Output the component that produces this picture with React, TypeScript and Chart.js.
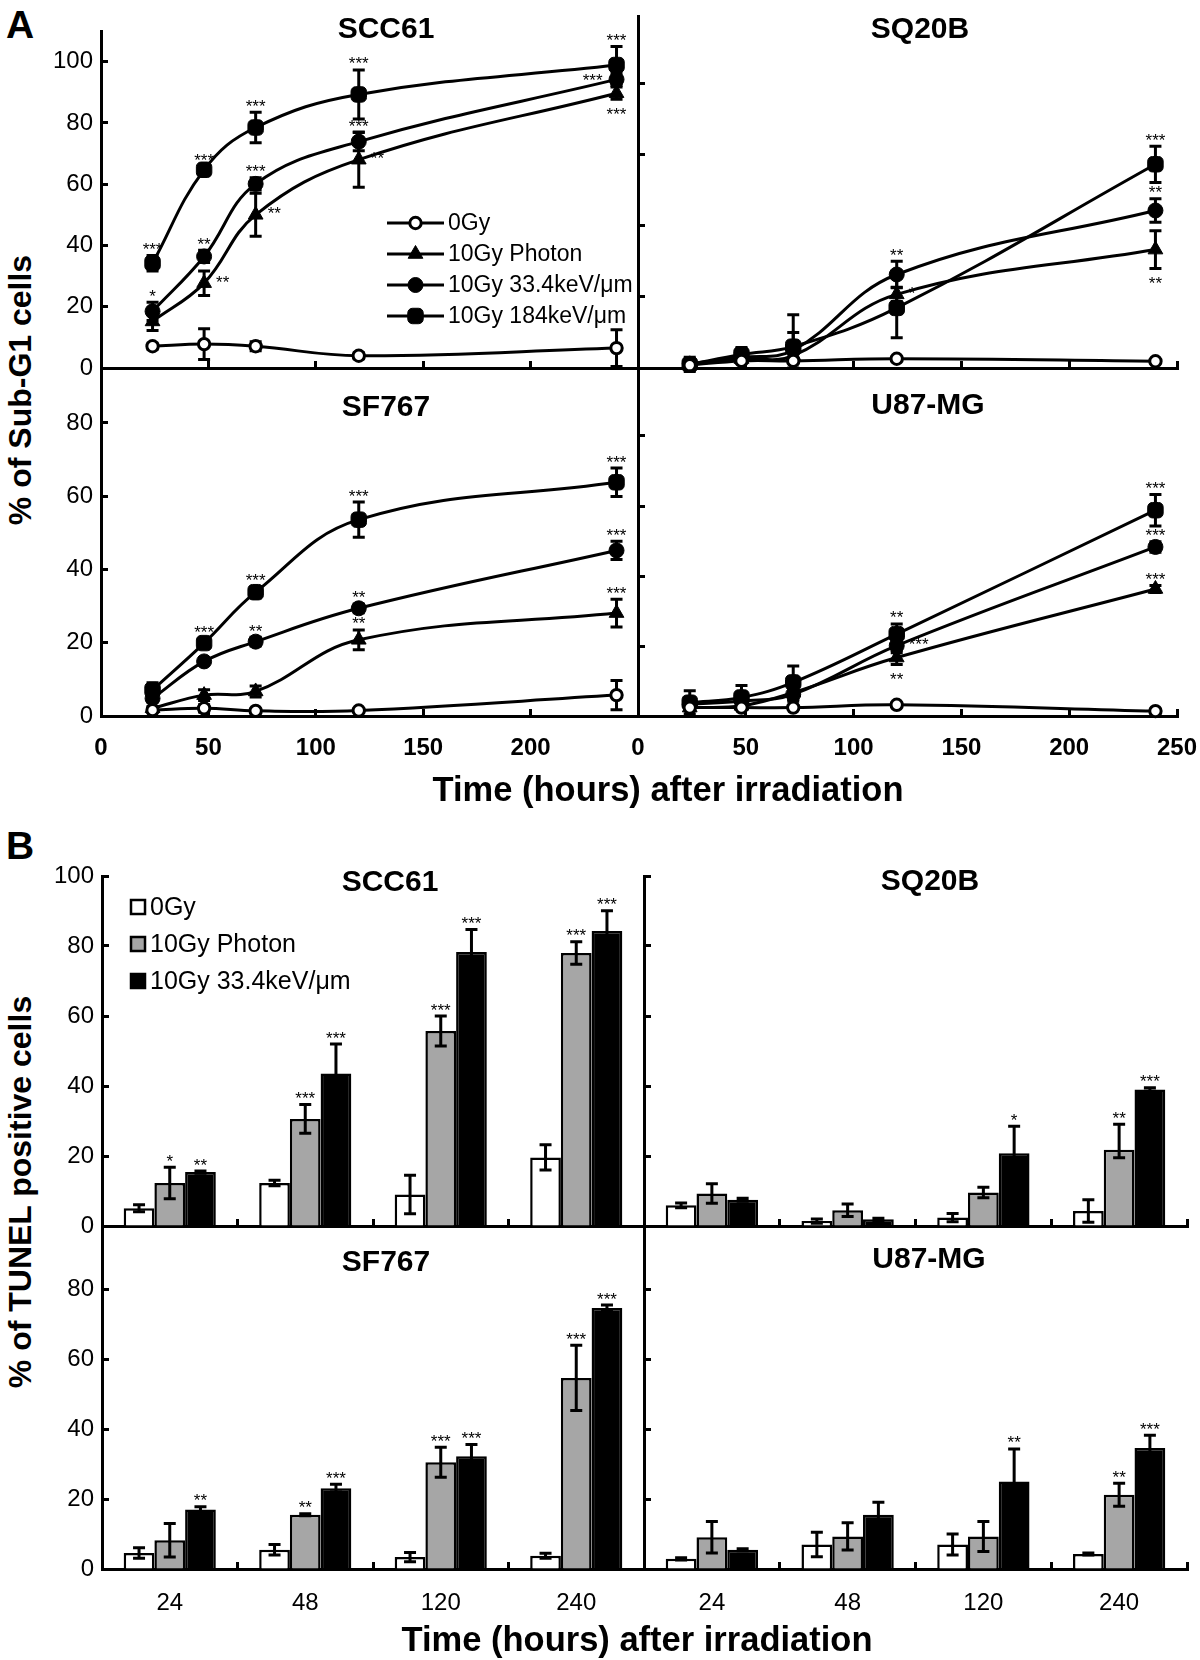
import React, { useEffect, useRef } from "react";
import { Chart, registerables } from "chart.js";

Chart.register(...registerables);

const FONT = "'Liberation Sans', Arial, Helvetica, sans-serif";

/* ================= Panel A : % of Sub-G1 cells ================= */
const hoursA = [24, 48, 72, 120, 240];
const xTicksA = [0, 50, 100, 150, 200, 250];
const yTicksA_TL = [0, 20, 40, 60, 80, 100];
const yTicksA_BL = [0, 20, 40, 60, 80];
const yTicksA_R = [0, 20, 40, 60, 80];
const seriesLabelsA = ["0Gy", "10Gy Photon", "10Gy 33.4keV/μm", "10Gy 184keV/μm"];

// SCC61
const a_scc61_0gy = [7.1, 7.8, 7.1, 4.0, 6.5];
const a_scc61_0gyErr = [1, 5, 1.5, 1, 6];
const a_scc61_photon = [15.2, 27.7, 50.0, 68.0, 89.7];
const a_scc61_photonErr = [3, 4, 7, 9, 2];
const a_scc61_photonSig = ["", "**", "**", "**", "***"];
const a_scc61_photonSigPos = ["", "r", "r", "r", "b"];
const a_scc61_let33 = [18.5, 36.4, 60.1, 73.9, 94.2];
const a_scc61_let33Err = [3, 2, 2, 3, 2];
const a_scc61_let33Sig = ["*", "**", "***", "***", "***"];
const a_scc61_let33SigPos = ["a", "a", "a", "a", "l"];
const a_scc61_let184 = [34.2, 64.7, 78.5, 89.3, 98.9];
const a_scc61_let184Err = [2.5, 1, 5, 8, 6];
const a_scc61_let184Sig = ["***", "***", "***", "***", "***"];

// SQ20B
const a_sq20b_0gy = [0.8, 2.0, 2.0, 2.6, 1.9];
const a_sq20b_0gyErr = [0.5, 0.5, 0.5, 0.5, 0.5];
const a_sq20b_photon = [1.0, 2.5, 3.5, 20.7, 33.3];
const a_sq20b_photonErr = [0.5, 1, 1.5, 2, 5.3];
const a_sq20b_photonSig = ["", "", "", "*", "**"];
const a_sq20b_photonSigPos = ["", "", "", "r", "b"];
const a_sq20b_let33 = [1.2, 3.0, 5.0, 26.3, 44.3];
const a_sq20b_let33Err = [1, 1, 5, 3.7, 3.3];
const a_sq20b_let33Sig = ["", "", "", "**", "**"];
const a_sq20b_let184 = [1.0, 3.8, 6.0, 16.9, 57.3];
const a_sq20b_let184Err: any[] = [2, 2, [3, 9], 8.4, 5.1];
const a_sq20b_let184Sig = ["", "", "", "", "***"];

// SF767
const a_sf767_0gy = [1.6, 2.1, 1.4, 1.5, 5.7];
const a_sf767_0gyErr = [0.5, 1, 0.5, 0.5, 4];
const a_sf767_photon = [2.1, 5.7, 6.7, 20.8, 28.1];
const a_sf767_photonErr = [0.5, 1.5, 1.5, 2.7, 3.8];
const a_sf767_photonSig = ["", "", "", "**", "***"];
const a_sf767_let33 = [4.8, 14.9, 20.3, 29.4, 45.2];
const a_sf767_let33Err = [1, 1, 1.2, 1.2, 2.5];
const a_sf767_let33Sig = ["", "", "**", "**", "***"];
const a_sf767_let184 = [7.1, 19.9, 33.8, 53.6, 63.8];
const a_sf767_let184Err = [2, 1.2, 1.5, 4.8, 3.9];
const a_sf767_let184Sig = ["", "***", "***", "***", "***"];

// U87-MG
const a_u87_0gy = [2.4, 2.4, 2.4, 3.2, 1.4];
const a_u87_0gyErr = [0.5, 0.5, 0.5, 0.5, 0.5];
const a_u87_photon = [2.4, 2.9, 6.7, 16.7, 36.3];
const a_u87_photonErr = [1, 1, 2, 2, 1];
const a_u87_photonSig = ["", "", "", "**", "***"];
const a_u87_photonSigPos = ["", "", "", "b", "a"];
const a_u87_let33 = [3.3, 4.3, 6.2, 20.1, 48.3];
const a_u87_let33Err = [1, 1, 2, 2, 1.5];
const a_u87_let33Sig = ["", "", "", "***", "***"];
const a_u87_let33SigPos = ["", "", "", "r", "a"];
const a_u87_let184 = [3.8, 5.3, 9.6, 23.4, 58.8];
const a_u87_let184Err = [3.4, 3.4, 4.7, 2.9, 4.5];
const a_u87_let184Sig = ["", "", "", "**", "***"];

/* ================= Panel B : % of TUNEL positive cells ================= */
const hoursB = ["24", "48", "120", "240"];
const yTicksB_T = [0, 20, 40, 60, 80, 100];
const yTicksB_B = [0, 20, 40, 60, 80];
const seriesLabelsB = ["0Gy", "10Gy Photon", "10Gy 33.4keV/μm"];

// SCC61
const b_scc61_0gy = [5.1, 12.3, 9.0, 19.6];
const b_scc61_0gyErr = [1, 0.8, 5.5, 3.6];
const b_scc61_photon = [12.3, 30.6, 55.7, 78.0];
const b_scc61_photonErr = [4.5, 4.1, 4.3, 3.2];
const b_scc61_photonSig = ["*", "***", "***", "***"];
const b_scc61_let33 = [15.4, 43.6, 78.3, 84.3];
const b_scc61_let33Err = [0.3, 8.4, 6.4, 5.8];
const b_scc61_let33Sig = ["**", "***", "***", "***"];

// SQ20B
const b_sq20b_0gy = [5.9, 1.4, 2.4, 4.3];
const b_sq20b_0gyErr = [0.7, 0.6, 1.2, 3.2];
const b_sq20b_photon = [9.3, 4.5, 9.6, 21.8];
const b_sq20b_photonErr: any[] = [2.8, 1.8, 1.5, [2.3, 7.3]];
const b_sq20b_photonSig = ["", "", "", "**"];
const b_sq20b_let33 = [7.5, 1.9, 20.8, 39.0];
const b_sq20b_let33Err = [0.4, 0.3, 7.7, 0.5];
const b_sq20b_let33Sig = ["", "", "*", "***"];

// SF767
const b_sf767_0gy = [4.6, 5.5, 3.4, 3.8];
const b_sf767_0gyErr = [1.5, 1.5, 1.3, 0.7];
const b_sf767_photon = [8.2, 15.5, 30.5, 54.6];
const b_sf767_photonErr = [4.8, 0.3, 4.3, 9.3];
const b_sf767_photonSig = ["", "**", "***", "***"];
const b_sf767_let33 = [17.0, 23.1, 32.2, 74.6];
const b_sf767_let33Err = [0.8, 1.1, 3.4, 0.8];
const b_sf767_let33Sig = ["**", "***", "***", "***"];

// U87-MG
const b_u87_0gy = [2.9, 7.0, 7.0, 4.3];
const b_u87_0gyErr = [0.3, 3.5, 3.0, 0.3];
const b_u87_photon = [9.1, 9.3, 9.3, 21.2];
const b_u87_photonErr = [4.5, 3.9, 4.3, 3.3];
const b_u87_photonSig = ["", "", "", "**"];
const b_u87_let33 = [5.5, 15.5, 25.0, 34.6];
const b_u87_let33Err = [0.3, 3.6, 9.3, 3.6];
const b_u87_let33Sig = ["", "", "**", "***"];

const panelTitles = ["SCC61", "SQ20B", "SF767", "U87-MG"];
const xTitle = "Time (hours) after irradiation";
const yTitleA = "% of Sub-G1 cells";
const yTitleB = "% of TUNEL positive cells";

/* ================= styles ================= */
const lineStyles: any[] = [
  { pointStyle: "circle", pointRadius: 5.7, pointBackgroundColor: "#ffffff", pointBorderWidth: 3 },
  { pointStyle: "triangle", pointRadius: 8.5, pointBackgroundColor: "#000000", pointBorderWidth: 1 },
  { pointStyle: "circle", pointRadius: 7.5, pointBackgroundColor: "#000000", pointBorderWidth: 1 },
  { pointStyle: "rectRounded", pointRadius: 9, pointBackgroundColor: "#000000", pointBorderWidth: 1 },
];
const barColors = ["#ffffff", "#a6a6a6", "#000000"];

function valueOf(d: any) {
  return typeof d === "number" ? d : d.y;
}
function errLoHi(e: any) {
  if (e == null) return [0, 0];
  return Array.isArray(e) ? [e[0], e[1]] : [e, e];
}

function drawErrors(chart: any, cap: number) {
  const ctx = chart.ctx;
  const ys = chart.scales.y;
  ctx.save();
  ctx.strokeStyle = "#000";
  ctx.lineWidth = 3;
  chart.data.datasets.forEach((ds: any, di: number) => {
    if (!ds.errors) return;
    const meta = chart.getDatasetMeta(di);
    meta.data.forEach((el: any, i: number) => {
      const e = ds.errors[i];
      if (e == null) return;
      const [lo, hi] = errLoHi(e);
      const v = valueOf(ds.data[i]);
      const x = el.x;
      const y1 = ys.getPixelForValue(v + hi);
      const y2 = ys.getPixelForValue(v - lo);
      ctx.beginPath();
      ctx.moveTo(x, y1);
      ctx.lineTo(x, y2);
      ctx.moveTo(x - cap / 2, y1);
      ctx.lineTo(x + cap / 2, y1);
      ctx.moveTo(x - cap / 2, y2);
      ctx.lineTo(x + cap / 2, y2);
      ctx.stroke();
    });
  });
  ctx.restore();
}

function drawSig(chart: any) {
  const ctx = chart.ctx;
  const ys = chart.scales.y;
  const size = 17;
  const lift = 0.56 * size;
  ctx.save();
  ctx.fillStyle = "#000";
  ctx.font = `${size}px ${FONT}`;
  ctx.textBaseline = "alphabetic";
  chart.data.datasets.forEach((ds: any, di: number) => {
    if (!ds.sig) return;
    const meta = chart.getDatasetMeta(di);
    meta.data.forEach((el: any, i: number) => {
      const s = ds.sig[i];
      if (!s) return;
      const pos = (ds.sigPos && ds.sigPos[i]) || "a";
      const [lo, hi] = errLoHi(ds.errors ? ds.errors[i] : 0);
      const v = valueOf(ds.data[i]);
      let x = el.x;
      let cy = 0;
      ctx.textAlign = "center";
      if (pos === "a") cy = ys.getPixelForValue(v + hi) - 10;
      else if (pos === "b") cy = ys.getPixelForValue(v - lo) + 11;
      else if (pos === "r") {
        ctx.textAlign = "left";
        x += 12;
        cy = el.y - 5;
      } else {
        ctx.textAlign = "right";
        x -= 14;
        cy = el.y - 3;
      }
      ctx.fillText(s, x, cy + lift);
    });
  });
  ctx.restore();
}

const annotate = {
  id: "annotate",
  beforeDatasetsDraw(chart: any) {
    if (chart.config.type === "line") drawErrors(chart, 12);
  },
  afterDatasetsDraw(chart: any) {
    if (chart.config.type === "bar") drawErrors(chart, 12);
    drawSig(chart);
  },
};

function drawMarker(ctx: any, st: any, x: number, y: number) {
  const r = st.pointRadius;
  ctx.beginPath();
  if (st.pointStyle === "circle") {
    ctx.arc(x, y, r, 0, Math.PI * 2);
  } else if (st.pointStyle === "triangle") {
    ctx.moveTo(x, y - r);
    ctx.lineTo(x + Math.sin((2 * Math.PI) / 3) * r, y - Math.cos((2 * Math.PI) / 3) * r);
    ctx.lineTo(x + Math.sin((4 * Math.PI) / 3) * r, y - Math.cos((4 * Math.PI) / 3) * r);
    ctx.closePath();
  } else {
    const c = r * 0.516;
    const h = r * 0.858;
    ctx.roundRect(x - h, y - h, 2 * h, 2 * h, c);
  }
  ctx.fillStyle = st.pointBackgroundColor;
  ctx.fill();
  ctx.lineWidth = st.pointBorderWidth;
  ctx.strokeStyle = "#000";
  ctx.stroke();
}

function legendLinePlugin(ox: number, oy: number) {
  return {
    id: "legendA",
    afterDatasetsDraw(chart: any) {
      const ctx = chart.ctx;
      ctx.save();
      seriesLabelsA.forEach((lab, i) => {
        const y = 223 + i * 31 - oy;
        const x0 = 387 - ox;
        const x1 = 444 - ox;
        ctx.strokeStyle = "#000";
        ctx.lineWidth = 3;
        ctx.beginPath();
        ctx.moveTo(x0, y);
        ctx.lineTo(x1, y);
        ctx.stroke();
        drawMarker(ctx, lineStyles[i], (x0 + x1) / 2, y);
        ctx.fillStyle = "#000";
        ctx.font = `23px ${FONT}`;
        ctx.textAlign = "left";
        ctx.textBaseline = "middle";
        ctx.fillText(lab, 448 - ox, y + 1);
      });
      ctx.restore();
    },
  };
}

function legendBarPlugin(ox: number, oy: number) {
  return {
    id: "legendB",
    afterDatasetsDraw(chart: any) {
      const ctx = chart.ctx;
      ctx.save();
      seriesLabelsB.forEach((lab, i) => {
        const y = 907 + i * 37 - oy;
        const x = 131 - ox;
        ctx.fillStyle = barColors[i];
        ctx.fillRect(x, y - 7, 14, 14);
        ctx.strokeStyle = "#000";
        ctx.lineWidth = 2.5;
        ctx.strokeRect(x, y - 7, 14, 14);
        ctx.fillStyle = "#000";
        ctx.font = `25px ${FONT}`;
        ctx.textAlign = "left";
        ctx.textBaseline = "middle";
        ctx.fillText(lab, 150 - ox, y + 1);
      });
      ctx.restore();
    },
  };
}

/* ================= scales ================= */
const axisBorder = { display: true, color: "#000", width: 3 };
const axisGrid = {
  display: true,
  drawOnChartArea: false,
  drawTicks: true,
  tickLength: -7,
  tickWidth: 3,
  tickColor: "#000",
  color: "#000",
};

function yAxis(max: number, ticks: number[], showLabels: boolean, width: number) {
  return {
    type: "linear",
    position: "left",
    min: 0,
    max,
    afterBuildTicks: (s: any) => {
      s.ticks = ticks.map((v) => ({ value: v }));
    },
    afterFit: (s: any) => {
      s.width = width;
    },
    border: axisBorder,
    grid: axisGrid,
    ticks: { display: showLabels, color: "#000", padding: 15, font: { family: FONT, size: 24 } },
  };
}

function xAxisLinear(showLabels: boolean, hideLast: boolean, height: number) {
  return {
    type: "linear",
    position: "bottom",
    min: 0,
    max: 250,
    afterBuildTicks: (s: any) => {
      s.ticks = xTicksA.map((v) => ({ value: v }));
    },
    afterFit: (s: any) => {
      s.height = height;
    },
    border: axisBorder,
    grid: axisGrid,
    ticks: {
      display: showLabels,
      color: "#000",
      padding: 25,
      maxRotation: 0,
      autoSkip: false,
      font: { family: FONT, size: 24, weight: "bold" },
      callback: (v: any) => (hideLast && v === 250 ? "" : String(v)),
    },
  };
}

function xAxisCat(showLabels: boolean, height: number) {
  return {
    type: "category",
    position: "bottom",
    offset: true,
    afterFit: (s: any) => {
      s.height = height;
    },
    border: axisBorder,
    grid: { ...axisGrid, offset: true },
    ticks: {
      display: showLabels,
      color: "#000",
      padding: 27,
      maxRotation: 0,
      autoSkip: false,
      font: { family: FONT, size: 24 },
    },
  };
}

function lineDS(i: number, values: number[], errs: any[], sig?: string[], sigPos?: string[]) {
  return {
    label: seriesLabelsA[i],
    data: hoursA.map((h, k) => ({ x: h, y: values[k] })),
    errors: errs,
    sig,
    sigPos,
    borderColor: "#000",
    borderWidth: 3,
    tension: 0.4,
    clip: false,
    pointBorderColor: "#000",
    pointHoverRadius: lineStyles[i].pointRadius,
    ...lineStyles[i],
  };
}

function barDS(i: number, values: number[], errs: any[], sig?: string[]) {
  return {
    label: seriesLabelsB[i],
    data: values,
    errors: errs,
    sig,
    backgroundColor: barColors[i],
    borderColor: "#000",
    borderWidth: 2.5,
    borderSkipped: "start",
    barPercentage: 1,
    categoryPercentage: 0.68,
  };
}

function baseOptions(pad: number[]) {
  return {
    responsive: false,
    animation: false,
    devicePixelRatio: 1,
    events: [],
    layout: { padding: { left: 0, top: pad[1], right: pad[2], bottom: 0 } },
    plugins: { legend: { display: false }, tooltip: { enabled: false }, title: { display: false } },
  };
}

type PanelDef = { rect: number[]; pad: number[]; make: (ox: number, oy: number, pad: number[]) => any };

const panels: PanelDef[] = [
  // A - SCC61
  {
    rect: [101, 31, 638, 368],
    pad: [60, 40, 20, 40],
    make: (ox, oy, pad) => ({
      type: "line",
      data: {
        datasets: [
          lineDS(0, a_scc61_0gy, a_scc61_0gyErr),
          lineDS(1, a_scc61_photon, a_scc61_photonErr, a_scc61_photonSig, a_scc61_photonSigPos),
          lineDS(2, a_scc61_let33, a_scc61_let33Err, a_scc61_let33Sig, a_scc61_let33SigPos),
          lineDS(3, a_scc61_let184, a_scc61_let184Err, a_scc61_let184Sig),
        ],
      },
      options: {
        ...baseOptions(pad),
        scales: { x: xAxisLinear(false, true, pad[3]), y: yAxis(110, yTicksA_TL, true, pad[0]) },
      },
      plugins: [annotate, legendLinePlugin(ox, oy)],
    }),
  },
  // A - SQ20B
  {
    rect: [638, 16, 1177, 368],
    pad: [10, 40, 22, 40],
    make: (ox, oy, pad) => ({
      type: "line",
      data: {
        datasets: [
          lineDS(0, a_sq20b_0gy, a_sq20b_0gyErr),
          lineDS(1, a_sq20b_photon, a_sq20b_photonErr, a_sq20b_photonSig, a_sq20b_photonSigPos),
          lineDS(2, a_sq20b_let33, a_sq20b_let33Err, a_sq20b_let33Sig),
          lineDS(3, a_sq20b_let184, a_sq20b_let184Err, a_sq20b_let184Sig),
        ],
      },
      options: {
        ...baseOptions(pad),
        scales: { x: xAxisLinear(false, false, pad[3]), y: yAxis(99, yTicksA_R, false, pad[0]) },
      },
      plugins: [annotate],
    }),
  },
  // A - SF767
  {
    rect: [101, 368, 638, 716],
    pad: [60, 40, 32, 60],
    make: (ox, oy, pad) => ({
      type: "line",
      data: {
        datasets: [
          lineDS(0, a_sf767_0gy, a_sf767_0gyErr),
          lineDS(1, a_sf767_photon, a_sf767_photonErr, a_sf767_photonSig),
          lineDS(2, a_sf767_let33, a_sf767_let33Err, a_sf767_let33Sig),
          lineDS(3, a_sf767_let184, a_sf767_let184Err, a_sf767_let184Sig),
        ],
      },
      options: {
        ...baseOptions(pad),
        scales: { x: xAxisLinear(true, true, pad[3]), y: yAxis(95, yTicksA_BL, true, pad[0]) },
      },
      plugins: [annotate],
    }),
  },
  // A - U87-MG
  {
    rect: [638, 366, 1177, 716],
    pad: [40, 40, 50, 60],
    make: (ox, oy, pad) => ({
      type: "line",
      data: {
        datasets: [
          lineDS(0, a_u87_0gy, a_u87_0gyErr),
          lineDS(1, a_u87_photon, a_u87_photonErr, a_u87_photonSig, a_u87_photonSigPos),
          lineDS(2, a_u87_let33, a_u87_let33Err, a_u87_let33Sig, a_u87_let33SigPos),
          lineDS(3, a_u87_let184, a_u87_let184Err, a_u87_let184Sig),
        ],
      },
      options: {
        ...baseOptions(pad),
        scales: { x: xAxisLinear(true, false, pad[3]), y: yAxis(100, yTicksA_R, false, pad[0]) },
      },
      plugins: [annotate],
    }),
  },
  // B - SCC61
  {
    rect: [102, 876, 644, 1226],
    pad: [60, 40, 20, 40],
    make: (ox, oy, pad) => ({
      type: "bar",
      data: {
        labels: hoursB,
        datasets: [
          barDS(0, b_scc61_0gy, b_scc61_0gyErr),
          barDS(1, b_scc61_photon, b_scc61_photonErr, b_scc61_photonSig),
          barDS(2, b_scc61_let33, b_scc61_let33Err, b_scc61_let33Sig),
        ],
      },
      options: {
        ...baseOptions(pad),
        scales: { x: xAxisCat(false, pad[3]), y: yAxis(100, yTicksB_T, true, pad[0]) },
      },
      plugins: [annotate, legendBarPlugin(ox, oy)],
    }),
  },
  // B - SQ20B
  {
    rect: [644, 876, 1187, 1226],
    pad: [10, 40, 12, 40],
    make: (ox, oy, pad) => ({
      type: "bar",
      data: {
        labels: hoursB,
        datasets: [
          barDS(0, b_sq20b_0gy, b_sq20b_0gyErr),
          barDS(1, b_sq20b_photon, b_sq20b_photonErr, b_sq20b_photonSig),
          barDS(2, b_sq20b_let33, b_sq20b_let33Err, b_sq20b_let33Sig),
        ],
      },
      options: {
        ...baseOptions(pad),
        scales: { x: xAxisCat(false, pad[3]), y: yAxis(100, yTicksB_T, false, pad[0]) },
      },
      plugins: [annotate],
    }),
  },
  // B - SF767
  {
    rect: [102, 1226, 644, 1569],
    pad: [60, 40, 20, 60],
    make: (ox, oy, pad) => ({
      type: "bar",
      data: {
        labels: hoursB,
        datasets: [
          barDS(0, b_sf767_0gy, b_sf767_0gyErr),
          barDS(1, b_sf767_photon, b_sf767_photonErr, b_sf767_photonSig),
          barDS(2, b_sf767_let33, b_sf767_let33Err, b_sf767_let33Sig),
        ],
      },
      options: {
        ...baseOptions(pad),
        scales: { x: xAxisCat(true, pad[3]), y: yAxis(98, yTicksB_B, true, pad[0]) },
      },
      plugins: [annotate],
    }),
  },
  // B - U87-MG
  {
    rect: [644, 1226, 1187, 1569],
    pad: [10, 40, 12, 60],
    make: (ox, oy, pad) => ({
      type: "bar",
      data: {
        labels: hoursB,
        datasets: [
          barDS(0, b_u87_0gy, b_u87_0gyErr),
          barDS(1, b_u87_photon, b_u87_photonErr, b_u87_photonSig),
          barDS(2, b_u87_let33, b_u87_let33Err, b_u87_let33Sig),
        ],
      },
      options: {
        ...baseOptions(pad),
        scales: { x: xAxisCat(true, pad[3]), y: yAxis(98, yTicksB_B, false, pad[0]) },
      },
      plugins: [annotate],
    }),
  },
];

function PanelCanvas({ def }: { def: PanelDef }) {
  const ref = useRef<HTMLCanvasElement | null>(null);
  const [l, t, r, b] = def.rect;
  const [pl, pt, pr, pb] = def.pad;
  const w = r - l + pl + pr;
  const h = b - t + pt + pb;
  const ox = l - pl;
  const oy = t - pt;
  useEffect(() => {
    if (!ref.current) return;
    const chart = new Chart(ref.current, def.make(ox, oy, def.pad));
    return () => chart.destroy();
  }, [def]);
  return (
    <canvas
      ref={ref}
      width={w}
      height={h}
      style={{ position: "absolute", left: ox, top: oy, width: w, height: h }}
    />
  );
}

function Label(props: { text: string; x: number; y: number; size: number; bold?: boolean; rotate?: boolean }) {
  const { text, x, y, size, bold, rotate } = props;
  return (
    <div
      style={{
        position: "absolute",
        left: x,
        top: y,
        transform: `translate(-50%, -50%)${rotate ? " rotate(-90deg)" : ""}`,
        fontFamily: FONT,
        fontSize: size,
        fontWeight: bold ? "bold" : "normal",
        lineHeight: 1,
        whiteSpace: "nowrap",
        color: "#000",
      }}
    >
      {text}
    </div>
  );
}

export default function App() {
  return (
    <div
      style={{
        position: "absolute",
        left: 0,
        top: 0,
        width: 1200,
        height: 1660,
        background: "#fff",
        overflow: "hidden",
      }}
    >
      {panels.map((p, i) => (
        <PanelCanvas key={i} def={p} />
      ))}
      <Label text="A" x={20} y={24} size={39} bold />
      <Label text="B" x={20} y={845} size={39} bold />

      <Label text={panelTitles[0]} x={386} y={28} size={30} bold />
      <Label text={panelTitles[1]} x={920} y={28} size={30} bold />
      <Label text={panelTitles[2]} x={386} y={406} size={30} bold />
      <Label text={panelTitles[3]} x={928} y={404} size={30} bold />

      <Label text={panelTitles[0]} x={390} y={881} size={30} bold />
      <Label text={panelTitles[1]} x={930} y={880} size={30} bold />
      <Label text={panelTitles[2]} x={386} y={1261} size={30} bold />
      <Label text={panelTitles[3]} x={929} y={1258} size={30} bold />

      <Label text={xTitle} x={668} y={789} size={34.5} bold />
      <Label text={xTitle} x={637} y={1639} size={34.5} bold />
      <Label text={yTitleA} x={20} y={390} size={32} bold rotate />
      <Label text={yTitleB} x={20} y={1192} size={32} bold rotate />
    </div>
  );
}
